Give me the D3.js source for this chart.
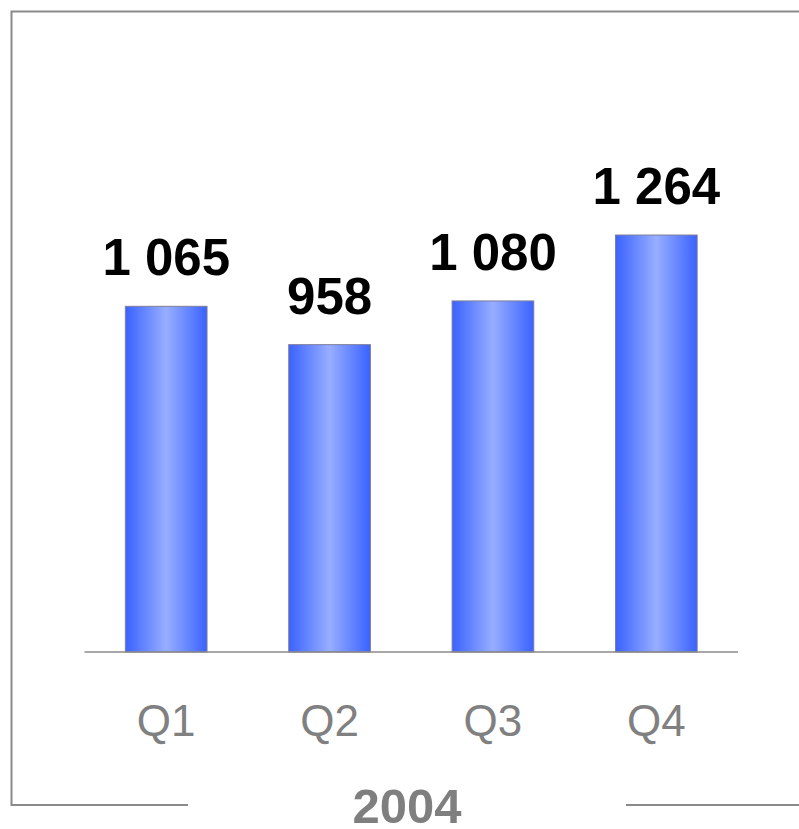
<!DOCTYPE html>
<html>
<head>
<meta charset="utf-8">
<script src="https://cdn.jsdelivr.net/npm/d3@7"></script>
<style>
  html, body { margin: 0; padding: 0; background: #fff; }
  svg { display: block; font-family: "Liberation Sans", Arial, sans-serif; }
</style>
</head>
<body>
<svg id="chart" width="799" height="829"></svg>
<script>
// Quarterly figures for 2004
const quarters = ["Q1", "Q2", "Q3", "Q4"];
const values = [1065, 958, 1080, 1264];
const yearLabel = "2004";

// Values shown with a space as thousands separator
const fmt = v => d3.format(",")(v).replace(/,/g, " ");

const svg = d3.select("#chart");

// Frame open at the bottom where the year caption sits
svg.append("path")
  .attr("d", "M188,805H11.5V11.5H799")
  .attr("fill", "none")
  .attr("stroke", "#8a8a8a")
  .attr("stroke-width", 2);
svg.append("path")
  .attr("d", "M626,805H799")
  .attr("fill", "none")
  .attr("stroke", "#8a8a8a")
  .attr("stroke-width", 2);

const x = d3.scaleBand()
  .domain(quarters)
  .range([84.5, 738])
  .paddingInner(0.5)
  .paddingOuter(0.25);

const y = d3.scaleLinear()
  .domain([100, 1400])
  .range([652, 186.3]);

// Horizontal cylinder-like shading for the bars
const defs = svg.append("defs");
const grad = defs.append("linearGradient")
  .attr("id", "barShade")
  .attr("x1", "0%").attr("x2", "100%")
  .attr("y1", "0%").attr("y2", "0%");
grad.append("stop").attr("offset", "0%").attr("stop-color", "#3a62ff");
grad.append("stop").attr("offset", "50%").attr("stop-color", "#97aeff");
grad.append("stop").attr("offset", "100%").attr("stop-color", "#3a62ff");

const data = quarters.map((q, i) => ({ q, v: values[i] }));

svg.append("g")
  .selectAll("rect")
  .data(data)
  .join("rect")
  .attr("x", d => x(d.q))
  .attr("y", d => y(d.v))
  .attr("width", x.bandwidth())
  .attr("height", d => y.range()[0] - y(d.v))
  .attr("fill", "url(#barShade)")
  .attr("stroke", "#7f7f9a")
  .attr("stroke-width", 1);

// Category baseline
svg.append("line")
  .attr("x1", 84.5).attr("x2", 738)
  .attr("y1", 652).attr("y2", 652)
  .attr("stroke", "#8a8a8a")
  .attr("stroke-width", 1.5);

// Value labels above bars
svg.append("g")
  .selectAll("text")
  .data(data)
  .join("text")
  .attr("x", d => x(d.q) + x.bandwidth() / 2)
  .attr("y", d => y(d.v) - 31)
  .attr("text-anchor", "middle")
  .attr("font-size", 51)
  .attr("font-weight", "bold")
  .attr("fill", "#000")
  .text(d => fmt(d.v));

// Quarter labels
svg.append("g")
  .selectAll("text")
  .data(quarters)
  .join("text")
  .attr("x", d => x(d) + x.bandwidth() / 2)
  .attr("y", 736)
  .attr("text-anchor", "middle")
  .attr("font-size", 44)
  .attr("fill", "#808080")
  .text(d => d);

// Year caption
svg.append("text")
  .attr("x", 407)
  .attr("y", 823)
  .attr("text-anchor", "middle")
  .attr("font-size", 49)
  .attr("font-weight", "bold")
  .attr("fill", "#7f7f7f")
  .text(yearLabel);
</script>
</body>
</html>
